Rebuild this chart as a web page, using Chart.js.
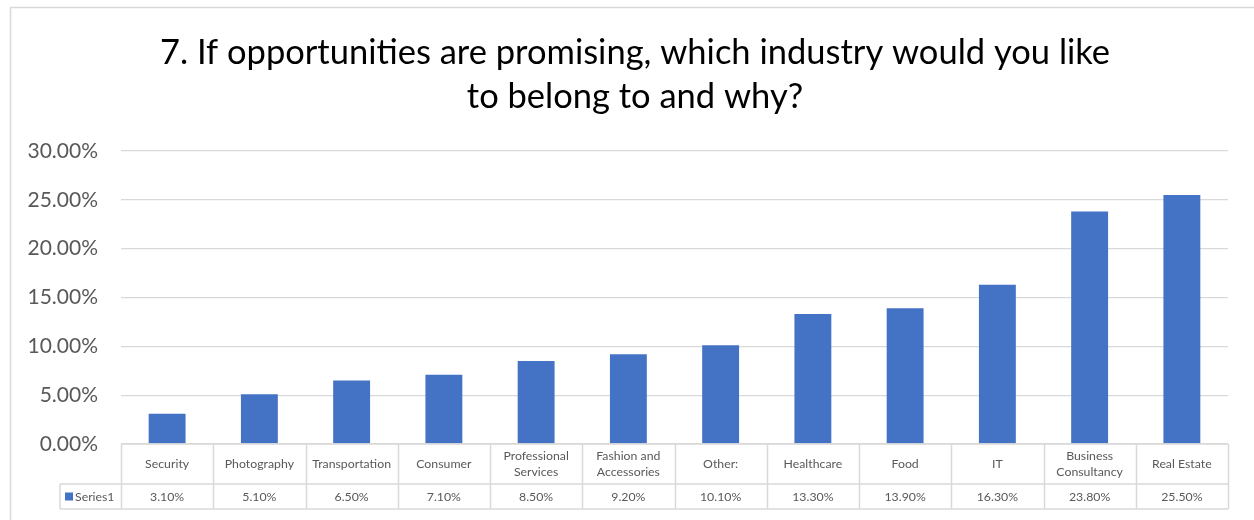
<!DOCTYPE html>
<html>
<head>
<meta charset="utf-8">
<script src="https://cdn.jsdelivr.net/npm/chart.js@4/dist/chart.umd.min.js"></script>
<style>
  html, body { margin: 0; padding: 0; background: #ffffff; }
  #wrap { width: 1254px; height: 520px; position: relative; }
</style>
</head>
<body>
<div id="wrap"><canvas id="c" width="1254" height="520"></canvas></div>
<script>
// Survey answers: preferred industry, share of respondents (%)
const categories = [
  ["Security"], ["Photography"], ["Transportation"], ["Consumer"],
  ["Professional", "Services"], ["Fashion and", "Accessories"], ["Other:"],
  ["Healthcare"], ["Food"], ["IT"], ["Business", "Consultancy"], ["Real Estate"]
];
const series1 = [3.1, 5.1, 6.5, 7.1, 8.5, 9.2, 10.1, 13.3, 13.9, 16.3, 23.8, 25.5];
const seriesName = "Series1";
const yTicks = [0, 5, 10, 15, 20, 25, 30];
const titleLines = ["7. If opportunities are promising, which industry would you like", "to belong to and why?"];

const FONT = "Lato, 'Open Sans', sans-serif";
const BAR = "#4472C4";
const GRID = "#d9d9d9";
const TEXT = "#595959";

// Outer frame of the chart box and the two-line heading, centred on the box
const framePlugin = {
  id: "frame",
  beforeDraw(chart) {
    const ctx = chart.ctx;
    ctx.save();
    ctx.fillStyle = "#ffffff";
    ctx.fillRect(0, 0, chart.width, chart.height);
    ctx.strokeStyle = GRID;
    ctx.lineWidth = 1.5;
    ctx.beginPath();
    ctx.moveTo(chart.width + 5, 7.5);
    ctx.lineTo(10.5, 7.5);
    ctx.lineTo(10.5, chart.height + 5);
    ctx.stroke();

    ctx.fillStyle = "#000000";
    ctx.font = "34.5px " + FONT;
    ctx.textAlign = "center";
    ctx.textBaseline = "alphabetic";
    titleLines.forEach((t, i) => ctx.fillText(t, 635, 63.5 + i * 44));
    ctx.restore();
  }
};

// Data table under the plot: category row, then value row with legend key
const tablePlugin = {
  id: "dataTable",
  afterDraw(chart) {
    const ctx = chart.ctx;
    const x = chart.scales.x;
    const area = chart.chartArea;
    const n = categories.length;
    const colW = (area.right - area.left) / n;
    const top = area.bottom;
    const mid = top + 40;
    const bot = top + 65;
    const keyLeft = 60;

    ctx.save();
    ctx.strokeStyle = GRID;
    ctx.lineWidth = 1.5;
    ctx.beginPath();
    ctx.moveTo(area.left, top); ctx.lineTo(area.right, top);
    ctx.moveTo(keyLeft, mid); ctx.lineTo(area.right, mid);
    ctx.moveTo(keyLeft, bot); ctx.lineTo(area.right, bot);
    ctx.moveTo(keyLeft, mid); ctx.lineTo(keyLeft, bot);
    for (let i = 0; i <= n; i++) {
      const px = Math.round(area.left + i * colW) + 0.5;
      ctx.moveTo(px, top); ctx.lineTo(px, bot);
    }
    ctx.stroke();

    ctx.fillStyle = TEXT;
    ctx.font = "12.3px " + FONT;
    ctx.textAlign = "center";
    ctx.textBaseline = "middle";
    categories.forEach((lines, i) => {
      const cx = x.getPixelForValue(i);
      const cy = (top + mid) / 2;
      const lh = 16;
      lines.forEach((t, j) => {
        ctx.fillText(t, cx, cy + (j - (lines.length - 1) / 2) * lh);
      });
      ctx.fillText(series1[i].toFixed(2) + "%", cx, (mid + bot) / 2 + 1);
    });

    // legend key
    ctx.fillStyle = BAR;
    ctx.fillRect(keyLeft + 5, (mid + bot) / 2 - 4, 8, 8);
    ctx.fillStyle = TEXT;
    ctx.textAlign = "left";
    ctx.fillText(seriesName, keyLeft + 15, (mid + bot) / 2 + 1);
    ctx.restore();
  }
};

new Chart(document.getElementById("c"), {
  type: "bar",
  data: {
    labels: categories.map(c => c.join(" ")),
    datasets: [{
      label: seriesName,
      data: series1,
      backgroundColor: BAR,
      borderWidth: 0,
      categoryPercentage: 1,
      barPercentage: 0.4
    }]
  },
  options: {
    responsive: false,
    animation: false,
    layout: { padding: { left: 16, right: 26, top: 151, bottom: 0 } },
    plugins: {
      legend: { display: false },
      tooltip: { enabled: false },
      title: { display: false }
    },
    scales: {
      x: {
        grid: { display: false },
        border: { display: false },
        ticks: { display: false },
        afterFit(scale) { scale.height = 76; }
      },
      y: {
        min: yTicks[0],
        max: yTicks[yTicks.length - 1],
        afterBuildTicks(scale) { scale.ticks = yTicks.map(v => ({ value: v })); },
        grid: { color: GRID, lineWidth: 1.3, drawTicks: false },
        border: { display: false },
        ticks: {
          color: TEXT,
          padding: 23,
          font: { family: FONT, size: 21 },
          callback: v => Number(v).toFixed(2) + "%"
        },
        afterFit(scale) { scale.width = 105; }
      }
    }
  },
  plugins: [framePlugin, tablePlugin]
});
</script>
</body>
</html>
